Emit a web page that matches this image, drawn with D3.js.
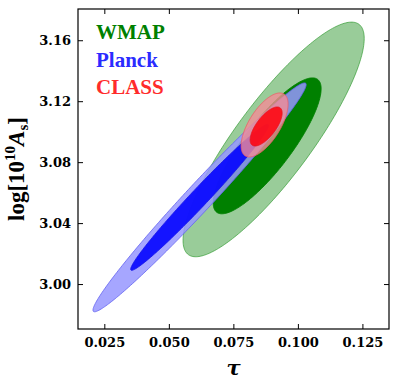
<!DOCTYPE html>
<html lang="en">
<head>
  <meta charset="UTF-8">
  <title>tau vs log A_s constraints</title>
  <script src="https://d3js.org/d3.v7.min.js"></script>
  <style>
    body { margin: 0; background: white; }
    svg text { font-family: "DejaVu Serif", serif; font-weight: bold; }
  </style>
</head>
<body>
  <div id="chart"></div>

  <script>
    // axis ranges and ticks
    const tauRange = [0.0148, 0.1353];
    const logARange = [2.9705, 3.1805];
    const tauTicks = [0.025, 0.050, 0.075, 0.100, 0.125];
    const logATicks = [3.00, 3.04, 3.08, 3.12, 3.16];

    // contours: [tau centre, logA centre, tau half-extent, logA half-extent, correlation]
    const wmap95 = [0.0906, 3.0949, 0.0351, 0.0770, 0.86];
    const wmap68 = [0.0881, 3.0907, 0.0209, 0.0446, 0.84];
    const planck95 = [0.0619, 3.0569, 0.0413, 0.0751, 0.985];
    const planck68 = [0.0619, 3.0569, 0.0267, 0.0479, 0.985];
    const class95 = [0.0871, 3.1044, 0.0091, 0.0210, 0.65];
    const class68 = [0.0877, 3.1034, 0.0062, 0.0128, 0.69];

    const names = ["WMAP", "Planck", "CLASS"];
    const nameColors = ["#008000", "#2b2bff", "#ff2b2b"];

    const W = 397, H = 390;
    const margin = { top: 9, right: 8, bottom: 61, left: 78 };
    const w = W - margin.left - margin.right;
    const h = H - margin.top - margin.bottom;

    const svg = d3.select("#chart").append("svg")
      .attr("width", W).attr("height", H);

    const x = d3.scaleLinear().domain(tauRange).range([0, w]);
    const y = d3.scaleLinear().domain(logARange).range([h, 0]);

    const g = svg.append("g").attr("transform", `translate(${margin.left},${margin.top})`);

    svg.append("clipPath").attr("id", "clip")
      .append("rect").attr("width", w).attr("height", h);

    // outline of a correlated gaussian contour
    function ellipse(p) {
      const [cx, cy, dx, dy, rho] = p;
      const s = Math.sqrt(1 - rho * rho);
      return d3.range(0, 2 * Math.PI, Math.PI / 120).map(t => [
        x(cx + dx * Math.cos(t)),
        y(cy + dy * (rho * Math.cos(t) + s * Math.sin(t)))
      ]);
    }
    const line = d3.line().curve(d3.curveLinearClosed);

    const layers = [
      { p: wmap95, fill: "rgb(0,128,0)", op: 0.4, stroke: "rgba(40,150,40,0.7)" },
      { p: wmap68, fill: "rgb(0,128,0)", op: 1, stroke: "rgb(0,128,0)" },
      { p: planck95, fill: "rgb(150,150,255)", op: 0.85, stroke: "rgba(100,100,240,0.9)" },
      { p: planck68, fill: "rgb(0,0,255)", op: 0.88, stroke: "rgba(20,20,230,0.9)" },
      { p: class95, fill: "rgb(242,140,150)", op: 0.8, stroke: "rgba(240,90,100,0.9)" },
      { p: class68, fill: "rgb(255,0,10)", op: 0.85, stroke: "rgba(230,20,30,0.9)" }
    ];

    const plot = g.append("g").attr("clip-path", "url(#clip)");
    plot.selectAll("path")
      .data(layers)
      .enter()
      .append("path")
      .attr("d", d => line(ellipse(d.p)))
      .attr("fill", d => d.fill)
      .attr("fill-opacity", d => d.op)
      .attr("stroke", d => d.stroke)
      .attr("stroke-width", 0.9);

    // axes, ticks on all four sides pointing in
    const tk = 5;
    g.append("g").attr("transform", `translate(0,${h})`)
      .call(d3.axisBottom(x).tickValues(tauTicks).tickSize(-tk).tickPadding(8.5).tickFormat(d3.format(".3f")));
    g.append("g")
      .call(d3.axisLeft(y).tickValues(logATicks).tickSize(-tk).tickPadding(7).tickFormat(d3.format(".2f")));
    g.append("g")
      .call(d3.axisTop(x).tickValues(tauTicks).tickSize(-tk).tickFormat(""));
    g.append("g").attr("transform", `translate(${w},0)`)
      .call(d3.axisRight(y).tickValues(logATicks).tickSize(-tk).tickFormat(""));

    g.selectAll(".domain").remove();
    g.selectAll(".tick line").attr("stroke", "#000").attr("stroke-width", 1);
    g.selectAll(".tick text")
      .attr("fill", "#000")
      .style("font-size", "13px")
      .style("font-family", "DejaVu Serif")
      .style("font-weight", "bold");

    g.append("rect")
      .attr("width", w).attr("height", h)
      .attr("fill", "none").attr("stroke", "#000").attr("stroke-width", 1.2);

    // legend text
    g.selectAll(".legend")
      .data(names)
      .enter()
      .append("text")
      .attr("class", "legend")
      .attr("x", 18)
      .attr("y", (d, i) => 30.3 + i * 27.3)
      .attr("fill", (d, i) => nameColors[i])
      .style("font-family", "Liberation Serif")
      .style("font-size", "21px")
      .text(d => d);

    // axis labels
    svg.append("text")
      .attr("x", margin.left + w / 2)
      .attr("y", 375)
      .attr("text-anchor", "middle")
      .style("font-size", "21px")
      .style("font-style", "italic")
      .text("τ");

    const yl = svg.append("text")
      .attr("transform", `translate(24,${margin.top + h / 2}) rotate(-90)`)
      .attr("text-anchor", "middle")
      .style("font-family", "Liberation Serif")
      .style("font-size", "23px");
    yl.append("tspan").text("log[10");
    yl.append("tspan").attr("dy", -9).style("font-size", "15px").text("10");
    yl.append("tspan").attr("dy", 9).style("font-style", "italic").text("A");
    yl.append("tspan").attr("dy", 4).style("font-size", "15px").text("s");
    yl.append("tspan").attr("dy", -4).text("]");
  </script>
</body>
</html>
